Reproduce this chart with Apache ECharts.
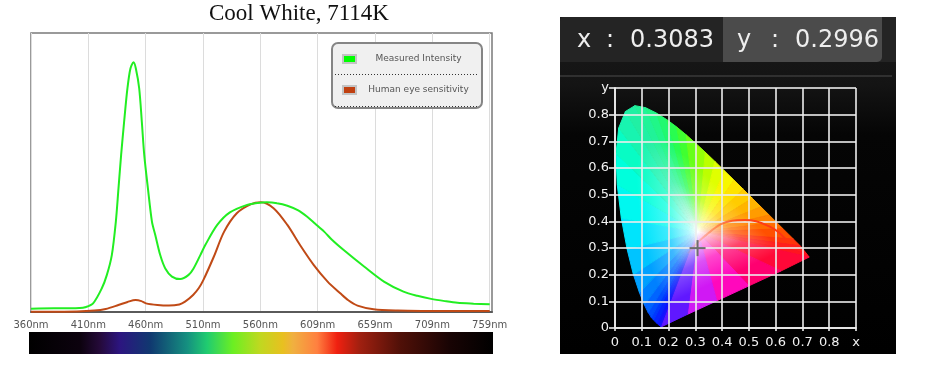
<!DOCTYPE html>
<html>
<head>
<meta charset="utf-8">
<script src="https://cdn.jsdelivr.net/npm/echarts@6/dist/echarts.min.js"></script>
<style>
html,body{margin:0;padding:0;background:#fff;}
#c{width:929px;height:368px;}
</style>
</head>
<body>
<div id="c"></div>
<script>
// ---------------- DATA ----------------
const titleText = 'Cool White, 7114K';
const seriesNames = ['Measured Intensity', 'Human eye sensitivity'];

// Measured spectrum (wavelength nm, relative intensity %)
const measuredWavelengths = [
  360, 380, 395, 402, 407, 414, 421.6, 426, 430.3, 433.8,
  436.1, 438.4, 441, 443.9, 446.5, 449.2, 451.2, 454.1, 456.4, 458.5,
  461.7, 465.2, 468.1, 472.4, 476.8, 482.6, 489.8, 497.1, 501.4, 507.3,
  511.6, 522, 533, 548, 557, 565, 574, 583, 592, 600,
  607, 615, 622, 632, 650, 667, 684, 696, 708,
  720, 731, 745, 759
];
const measuredIntensity = [
  1.2, 1.3, 1.3, 1.4, 1.7, 3.1, 8.5, 13.3, 20.4, 32.4,
  44.3, 56.3, 68.2, 80.2, 87.3, 89.5, 87.3, 80.2, 68.2, 56.3,
  44.3, 32.4, 27.6, 20.4, 15.6, 12.7, 11.8, 13.3, 15.6, 20.4,
  24.0, 31.2, 35.7, 38.4, 39.1, 39.3, 39.0, 38.1, 36.5, 34.2,
  31.7, 28.8, 25.8, 22.2, 16.2, 10.9, 7.3, 5.8, 4.7,
  3.9, 3.3, 3.0, 2.8
];

// Human eye sensitivity curve (wavelength nm, relative %)
const eyeWavelengths = [
  360, 400, 415, 425, 436, 444, 451, 456, 460, 470,
  480, 489, 494, 501, 506, 510, 519, 528, 539, 551,
  560, 571, 583, 594, 606, 618, 629, 636, 644, 658,
  679, 700, 759
];
const eyeSensitivity = [
  0.1, 0.2, 0.5, 1.1, 2.5, 3.6, 4.3, 3.9, 3.1, 2.5,
  2.3, 2.7, 3.7, 6.1, 8.6, 11.5, 19.8, 28.8, 35.4, 38.6,
  39.3, 37.2, 31.2, 24.0, 16.8, 10.9, 6.7, 4.2, 2.3, 1.0,
  0.5, 0.4, 0.4
];

// x axis ticks (8 equal steps from 360 to 759)
const xTickValues = [360, 409.875, 459.75, 509.625, 559.5, 609.375, 659.25, 709.125, 759];
const xTickLabels = ['360nm', '410nm', '460nm', '510nm', '560nm', '609nm', '659nm', '709nm', '759nm'];

// CIE 1931 chromaticity: spectral locus + purple line
const locusX = [0.1741, 0.1714, 0.1644, 0.1566, 0.1440, 0.1355, 0.1241, 0.1096, 0.0913, 0.0687,
  0.0454, 0.0235, 0.0082, 0.0039, 0.0139, 0.0389, 0.0743, 0.1142, 0.1547, 0.1929,
  0.2296, 0.2658, 0.3016, 0.3373, 0.3731, 0.4087, 0.4441, 0.4788, 0.5125, 0.5448,
  0.5752, 0.6029, 0.6270, 0.6658, 0.6915, 0.7120, 0.7250,
  0.62, 0.50, 0.38, 0.27];
const locusY = [0.0050, 0.0051, 0.0109, 0.0177, 0.0297, 0.0399, 0.0578, 0.0868, 0.1327, 0.2007,
  0.2950, 0.4127, 0.5384, 0.6548, 0.7502, 0.8120, 0.8338, 0.8262, 0.8059, 0.7816,
  0.7543, 0.7243, 0.6923, 0.6589, 0.6245, 0.5896, 0.5547, 0.5202, 0.4866, 0.4544,
  0.4242, 0.3965, 0.3725, 0.3340, 0.3083, 0.2830, 0.2660,
  0.214, 0.158, 0.102, 0.051];
// Planckian (black body) curve as drawn
const planckX = [0.272, 0.290, 0.310, 0.330, 0.360, 0.392, 0.437, 0.485, 0.527, 0.578, 0.610, 0.637];
const planckY = [0.280, 0.300, 0.322, 0.340, 0.365, 0.388, 0.402, 0.405, 0.400, 0.380, 0.360, 0.333];
// Measured chromaticity
const chromaticity = [0.3083, 0.2996];

// ---------------- STYLES ----------------
const locusColors = ['#2010ff', '#2010ff', '#1010ff', '#0a18ff', '#0030ff', '#0040ff', '#0058ff', '#0070ff', '#0090ff', '#00b0ff',
  '#00d8ff', '#00f0f8', '#00ffe8', '#00ffd0', '#10f8b8', '#20f0a8', '#20f0a0', '#20f590', '#20f880', '#20fa60',
  '#30ff40', '#50ff20', '#80ff10', '#a8ff00', '#d0ff00', '#f0ff00', '#ffee00', '#ffd800', '#ffc000', '#ffa800',
  '#ff9000', '#ff7800', '#ff6000', '#ff4000', '#ff2818', '#ff1820', '#ff1020',
  '#ff0050', '#ff0090', '#ff10e8', '#a020ff'];
const whitePoint = [0.31, 0.36];
const spectrumStops = [
  [0, '#000000'], [0.11, '#0c020e'], [0.153, '#250a3a'], [0.196, '#2c1580'], [0.261, '#103870'],
  [0.341, '#159080'], [0.384, '#20cc70'], [0.44, '#6cef22'], [0.498, '#c0d820'], [0.547, '#e8c020'],
  [0.569, '#f0b040'], [0.621, '#ff8040'], [0.664, '#f02010'], [0.713, '#a02010'], [0.8, '#501008'],
  [0.907, '#180404'], [1, '#000000']
];

function rgbOf(h) { h = h.replace('#', ''); return [0, 2, 4].map(k => parseInt(h.substr(k, 2), 16)); }
function lerp(a, b, t) { return a.map((v, i) => v + (b[i] - v) * t); }
function css(c) { return 'rgb(' + c.map(v => Math.round(v)).join(',') + ')'; }
const WHITE = [255, 255, 255];
const nLocus = locusX.length;

const chart = echarts.init(document.getElementById('c'), null, { renderer: 'canvas' });

const gridLineColor = 'rgba(236,236,236,0.8)';
function chromaLabel(axisName) {
  return function (v) {
    if (Math.abs(v - 0.9) < 1e-6) return axisName;
    return String(parseFloat(v.toFixed(1)));
  };
}

const option = {
  animation: false,
  backgroundColor: '#ffffff',
  title: {
    text: titleText,
    left: 209, top: 2, padding: 0,
    textStyle: { fontFamily: 'Liberation Serif', fontSize: 23, fontWeight: 'normal', color: '#111' }
  },
  legend: {
    orient: 'vertical',
    left: 332, top: 43,
    padding: [6, 6, 8, 10],
    itemGap: 11,
    itemWidth: 13, itemHeight: 8,
    backgroundColor: '#f0f0f0',
    borderColor: '#858585', borderWidth: 2, borderRadius: 6,
    formatter: name => '{t|' + name + '}',
    textStyle: {
      color: '#555', fontSize: 9, fontFamily: 'DejaVu Sans',
      rich: { t: { width: 115, align: 'center', height: 20, lineHeight: 20, fontSize: 9, color: '#555', fontFamily: 'DejaVu Sans' } }
    },
    data: [
      { name: seriesNames[0], icon: 'rect', itemStyle: { color: '#00ff00', borderColor: '#c4c4c4', borderWidth: 2 } },
      { name: seriesNames[1], icon: 'rect', itemStyle: { color: '#c04010', borderColor: '#c4c4c4', borderWidth: 2 } }
    ]
  },
  grid: [
    { left: 31, top: 33, width: 461, height: 279, show: true, backgroundColor: '#fff', borderColor: '#7a7a7a', borderWidth: 1.5, outerBoundsMode: 'none' },
    { left: 615, top: 88, width: 241, height: 240, show: false, outerBoundsMode: 'none' }
  ],
  xAxis: [
    {
      gridIndex: 0, type: 'value', min: 360, max: 761,
      axisLine: { show: true, lineStyle: { color: '#5a5a5a', width: 2 } },
      axisTick: { show: false, customValues: xTickValues },
      axisLabel: {
        customValues: xTickValues, color: '#555', fontSize: 10, fontFamily: 'DejaVu Sans', margin: 8,
        formatter: v => { const i = xTickValues.indexOf(v); return i >= 0 ? xTickLabels[i] : Math.round(v) + 'nm'; }
      },
      splitLine: { show: true, lineStyle: { color: '#dcdcdc', width: 1 } }
    },
    {
      gridIndex: 1, type: 'value', min: 0, max: 0.9, interval: 0.1,
      axisLine: { show: true, onZero: false, lineStyle: { color: gridLineColor, width: 2 } },
      axisTick: { show: true, length: 3, lineStyle: { color: gridLineColor, width: 2 } },
      axisLabel: { color: '#f2f2f2', fontSize: 13, fontFamily: 'DejaVu Sans', margin: 8, formatter: chromaLabel('x') },
      splitLine: { show: true, lineStyle: { color: gridLineColor, width: 2 } }
    }
  ],
  yAxis: [
    { gridIndex: 0, type: 'value', min: 0, max: 100, show: false },
    {
      gridIndex: 1, type: 'value', min: 0, max: 0.9, interval: 0.1,
      axisLine: { show: true, onZero: false, lineStyle: { color: gridLineColor, width: 2 } },
      axisTick: { show: true, length: 6, lineStyle: { color: gridLineColor, width: 2 } },
      axisLabel: { color: '#f2f2f2', fontSize: 13, fontFamily: 'DejaVu Sans', margin: 6, formatter: chromaLabel('y') },
      splitLine: { show: true, lineStyle: { color: gridLineColor, width: 2 } }
    }
  ],
  series: [
    {
      name: seriesNames[0], type: 'line', xAxisIndex: 0, yAxisIndex: 0,
      data: measuredWavelengths.map((w, i) => [w, measuredIntensity[i]]),
      showSymbol: false, smooth: 0.3, color: '#22ee22',
      lineStyle: { color: '#22ee22', width: 2 }, z: 3
    },
    {
      name: seriesNames[1], type: 'line', xAxisIndex: 0, yAxisIndex: 0,
      data: eyeWavelengths.map((w, i) => [w, eyeSensitivity[i]]),
      showSymbol: false, smooth: 0.3, color: '#c04a16',
      lineStyle: { color: '#c04a16', width: 2 }, z: 2
    },
    {
      name: 'gamut', type: 'custom', xAxisIndex: 1, yAxisIndex: 1, silent: true, z: -1,
      data: locusX.map((x, i) => [x, locusY[i]]),
      encode: { x: 0, y: 1 },
      renderItem: function (params, api) {
        const i = params.dataIndex, j = (i + 1) % nLocus;
        const p = api.coord([locusX[i], locusY[i]]);
        const q = api.coord([locusX[j], locusY[j]]);
        const w = api.coord(whitePoint);
        const dx = q[0] - p[0], dy = q[1] - p[1];
        const t = ((w[0] - p[0]) * dx + (w[1] - p[1]) * dy) / (dx * dx + dy * dy);
        const f = [p[0] + t * dx, p[1] + t * dy];
        const c = lerp(rgbOf(locusColors[i]), rgbOf(locusColors[j]), 0.5);
        const stops = [
          { offset: 0, color: '#ffffff' },
          { offset: 0.12, color: css(lerp(c, WHITE, 0.72)) },
          { offset: 0.4, color: css(lerp(c, WHITE, 0.25)) },
          { offset: 0.75, color: css(c) },
          { offset: 1, color: css(c) }
        ];
        const g = new echarts.graphic.LinearGradient(w[0], w[1], f[0], f[1], stops, true);
        return { type: 'polygon', shape: { points: [w, p, q] }, style: { fill: g, stroke: g, lineWidth: 1 } };
      }
    },
    {
      name: 'planck', type: 'line', xAxisIndex: 1, yAxisIndex: 1, silent: true, z: 3,
      data: planckX.map((x, i) => [x, planckY[i]]),
      showSymbol: false, smooth: 0.3,
      lineStyle: {
        width: 2,
        color: new echarts.graphic.LinearGradient(0, 0, 1, 0, [
          { offset: 0, color: 'rgba(255,160,120,0.1)' },
          { offset: 0.25, color: 'rgba(255,120,70,0.6)' },
          { offset: 0.5, color: '#ff4a18' },
          { offset: 1, color: '#ff3010' }
        ])
      }
    },
    {
      name: 'point', type: 'custom', xAxisIndex: 1, yAxisIndex: 1, silent: true, z: 4,
      data: [chromaticity],
      renderItem: function (params, api) {
        const c = api.coord([api.value(0), api.value(1)]);
        return {
          type: 'group', children: [
            { type: 'line', shape: { x1: c[0] - 8, y1: c[1], x2: c[0] + 8, y2: c[1] }, style: { stroke: '#6e6e6e', lineWidth: 2 } },
            { type: 'line', shape: { x1: c[0], y1: c[1] - 8, x2: c[0], y2: c[1] + 8 }, style: { stroke: '#6e6e6e', lineWidth: 2 } }
          ]
        };
      }
    }
  ],
  graphic: {
    elements: [
      // spectrum bar
      {
        type: 'rect', z: -50, silent: true,
        shape: { x: 29, y: 332, width: 464, height: 22 },
        style: { fill: new echarts.graphic.LinearGradient(0, 0, 1, 0, spectrumStops.map(s => ({ offset: s[0], color: s[1] }))) }
      },
      // legend dotted separators
      { type: 'line', z: 100, silent: true, shape: { x1: 335, y1: 74.5, x2: 479, y2: 74.5 }, style: { stroke: '#333', lineWidth: 1, lineDash: [1, 2] } },
      { type: 'line', z: 100, silent: true, shape: { x1: 335, y1: 106.5, x2: 479, y2: 106.5 }, style: { stroke: '#333', lineWidth: 1, lineDash: [1, 2] } },
      // right panel background
      {
        type: 'rect', z: -100, silent: true,
        shape: { x: 560, y: 17, width: 336, height: 337 },
        style: { fill: new echarts.graphic.LinearGradient(0, 0, 0, 1, [
          { offset: 0, color: '#1a1a1a' }, { offset: 0.2, color: '#141414' }, { offset: 0.35, color: '#050505' }, { offset: 1, color: '#000000' }
        ]) }
      },
      { type: 'rect', z: -99, silent: true, shape: { x: 560, y: 17, width: 336, height: 45, r: [4, 0, 0, 0] }, style: { fill: '#242424' } },
      { type: 'rect', z: -98, silent: true, shape: { x: 723, y: 17, width: 159, height: 45, r: [0, 0, 5, 0] }, style: { fill: '#4b4b4b' } },
      { type: 'line', z: -97, silent: true, shape: { x1: 560, y1: 76, x2: 892, y2: 76 }, style: { stroke: '#3a3a3a', lineWidth: 1.5 } },
      // coordinate readout
      { type: 'text', z: 10, silent: true, style: { x: 577, y: 41, text: 'x', fill: '#eeeeee', font: '24px "DejaVu Sans"', verticalAlign: 'middle' } },
      { type: 'text', z: 10, silent: true, style: { x: 610, y: 41, text: ':', fill: '#eeeeee', font: '24px "DejaVu Sans"', align: 'center', verticalAlign: 'middle' } },
      { type: 'text', z: 10, silent: true, style: { x: 630, y: 41, text: chromaticity[0].toFixed(4), fill: '#eeeeee', font: '24px "DejaVu Sans"', verticalAlign: 'middle' } },
      { type: 'text', z: 10, silent: true, style: { x: 737, y: 41, text: 'y', fill: '#eeeeee', font: '24px "DejaVu Sans"', verticalAlign: 'middle' } },
      { type: 'text', z: 10, silent: true, style: { x: 775, y: 41, text: ':', fill: '#eeeeee', font: '24px "DejaVu Sans"', align: 'center', verticalAlign: 'middle' } },
      { type: 'text', z: 10, silent: true, style: { x: 795, y: 41, text: chromaticity[1].toFixed(4), fill: '#eeeeee', font: '24px "DejaVu Sans"', verticalAlign: 'middle' } }
    ]
  }
};

chart.setOption(option);
</script>
</body>
</html>
